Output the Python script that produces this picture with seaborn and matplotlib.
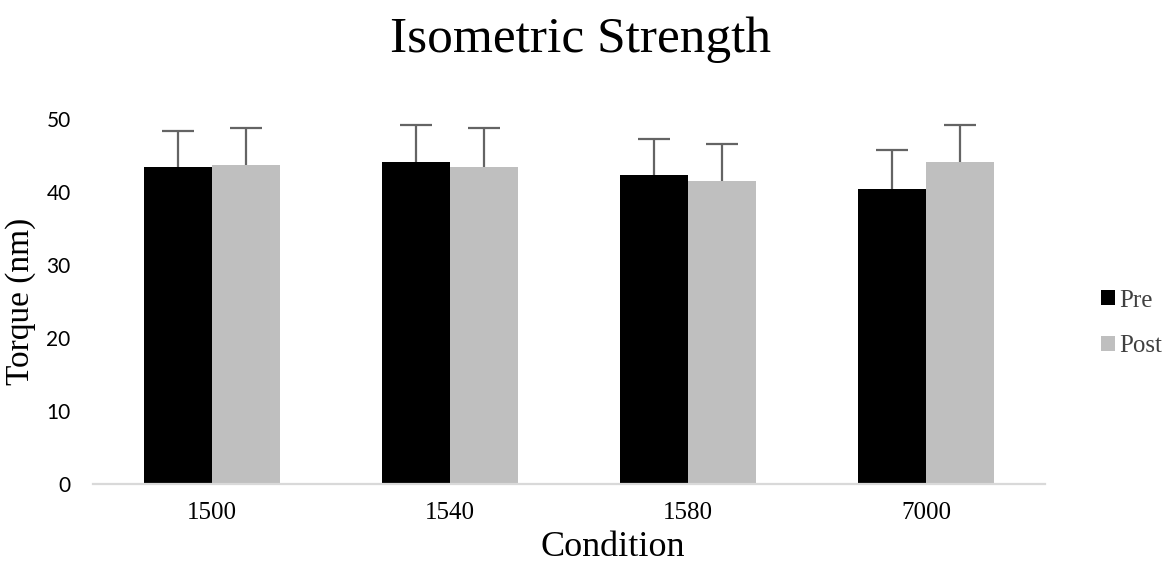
import seaborn as sns
import matplotlib.pyplot as plt
import pandas as pd

conditions = ['1500', '1540', '1580', '7000']
pre_torque = [43.4, 44.1, 42.3, 40.4]
post_torque = [43.7, 43.4, 41.5, 44.1]
pre_sd = [5.0, 5.1, 5.0, 5.4]
post_sd = [5.1, 5.4, 5.1, 5.1]
phases = ['Pre', 'Post']

SERIF = 'Liberation Serif'

data = pd.DataFrame({
    'Condition': conditions * 2,
    'Torque': pre_torque + post_torque,
    'Phase': [phases[0]] * 4 + [phases[1]] * 4,
})

sns.set_theme(style='white')

fig = plt.figure(figsize=(11.62, 5.62), dpi=100)
ax = fig.add_axes([0.080, 0.1388, 0.8193, 0.6495])

sns.barplot(data=data, x='Condition', y='Torque', hue='Phase',
            palette=['#000000', '#bfbfbf'], width=0.573, gap=0,
            linewidth=0, saturation=1, errorbar=None, ax=ax)

# только верхние "усы", как в Excel
for cont, err in zip(ax.containers, [pre_sd, post_sd]):
    xs = [b.get_x() + b.get_width() / 2 for b in cont]
    hs = [b.get_height() for b in cont]
    _, caps, _ = ax.errorbar(xs, hs, yerr=[[0] * len(err), err], fmt='none',
                             ecolor='#646464', elinewidth=1.6,
                             capsize=11.5, capthick=1.6)
    for cap in caps:
        if list(cap.get_ydata()) == hs:
            cap.set_visible(False)

ax.set_ylim(0, 50)
ax.set_xlim(-0.5, 3.5)
ax.set_yticks(range(0, 51, 10))

for side in ['top', 'right', 'left']:
    ax.spines[side].set_visible(False)
ax.spines['bottom'].set_color('#d9d9d9')
ax.spines['bottom'].set_linewidth(1.6)

ax.tick_params(axis='y', length=0, pad=16)
ax.tick_params(axis='x', length=0, pad=13)
for lab in ax.get_yticklabels():
    lab.set_fontfamily('Lato')
    lab.set_fontsize(15)
    lab.set_color('#000000')
for lab in ax.get_xticklabels():
    lab.set_fontfamily(SERIF)
    lab.set_fontsize(18)
    lab.set_color('#000000')

ax.set_xlabel('Condition', fontfamily=SERIF, fontsize=26, color='#000000')
ax.set_ylabel('Torque (nm)', fontfamily=SERIF, fontsize=24, color='#000000')
ax.xaxis.set_label_coords(0.546, -0.128)
ax.yaxis.set_label_coords(-0.060, 0.5)

fig.suptitle('Isometric Strength', fontfamily=SERIF, fontsize=37,
             color='#000000', x=0.5, y=0.929, va='center')

leg = ax.legend(loc='center left', bbox_to_anchor=(1.035, 0.44),
                frameon=False, handlelength=0.55, handleheight=0.55,
                handletextpad=0.2, labelspacing=0.95,
                prop={'family': SERIF, 'size': 18})
for t in leg.get_texts():
    t.set_color('#404040')

fig.savefig('out.png', dpi=100)
